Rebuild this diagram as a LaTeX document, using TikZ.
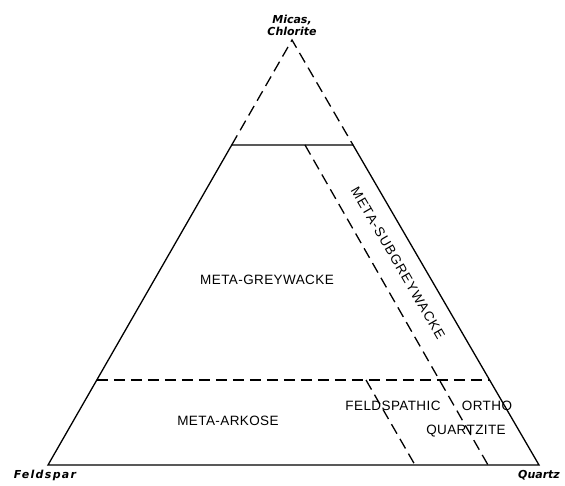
\documentclass[tikz,border=0pt]{standalone}
\usepackage{fontspec}
\setmainfont{Liberation Sans}[LetterSpace=3]
\newfontfamily\cornerfont{DejaVu Sans}
\usetikzlibrary{calc, positioning}

\tikzset{
  boundary/.style={line width=1.3pt},
  limit/.style={line width=1.3pt, dash pattern=on 11pt off 6pt},
  field/.style={font=\fontsize{13.5}{15}\selectfont, inner sep=1pt},
  corner/.style={font=\cornerfont\bfseries\itshape\fontsize{11}{12}\selectfont, align=center, inner sep=1pt},
}

\begin{document}
\begin{tikzpicture}[x=1pt, y=-1pt]
\useasboundingbox (0,0) rectangle (565,486);

% Corners of the triangle
\coordinate (F) at (48,465);
\coordinate (Q) at (539,465);
\coordinate (M) at (292,40);

% Cut points on the two sides
\coordinate (FT) at ($(F)!0.753!(M)$);
\coordinate (QT) at ($(Q)!0.753!(M)$);
\coordinate (FL) at ($(F)!0.2!(M)$);
\coordinate (QL) at ($(Q)!0.2!(M)$);

% Field limits inside
\coordinate (S1) at (305,145);
\coordinate (S2) at (488,465);
\coordinate (O1) at (366,380);
\coordinate (O2) at (415,465);

% Solid outline of the field
\draw[boundary] (FT) -- (F) -- (Q) -- (QT) -- cycle;

% Dashed lines
\draw[limit] (FT) -- (M) -- (QT);
\draw[limit] (FL) -- (QL);
\draw[limit] (S1) -- (S2);
\draw[limit] (O1) -- (O2);

% Corner labels
\node[corner, above=3pt of M] (micas) {Micas,\\Chlorite};
\node[corner, below=4pt of F, xshift=-3pt] (feldspar) {\addfontfeature{LetterSpace=12}Feldspar};
\node[corner, below=4pt of Q] (quartz) {Quartz};

% Field names
\node[field] (greywacke) at (267,280) {META-GREYWACKE};
\node[field, rotate=-59.8] (subgreywacke) at (398,263) {\addfontfeature{LetterSpace=8}META-SUBGREYWACKE};
\node[field] (arkose) at (228,421) {META-ARKOSE};
\node[field] (feldspathic) at (393,406) {FELDSPATHIC};
\node[field] (ortho) at (487,406) {ORTHO};
\node[field] (quartzite) at (466,431) {QUARTZITE};
\end{tikzpicture}
\end{document}
